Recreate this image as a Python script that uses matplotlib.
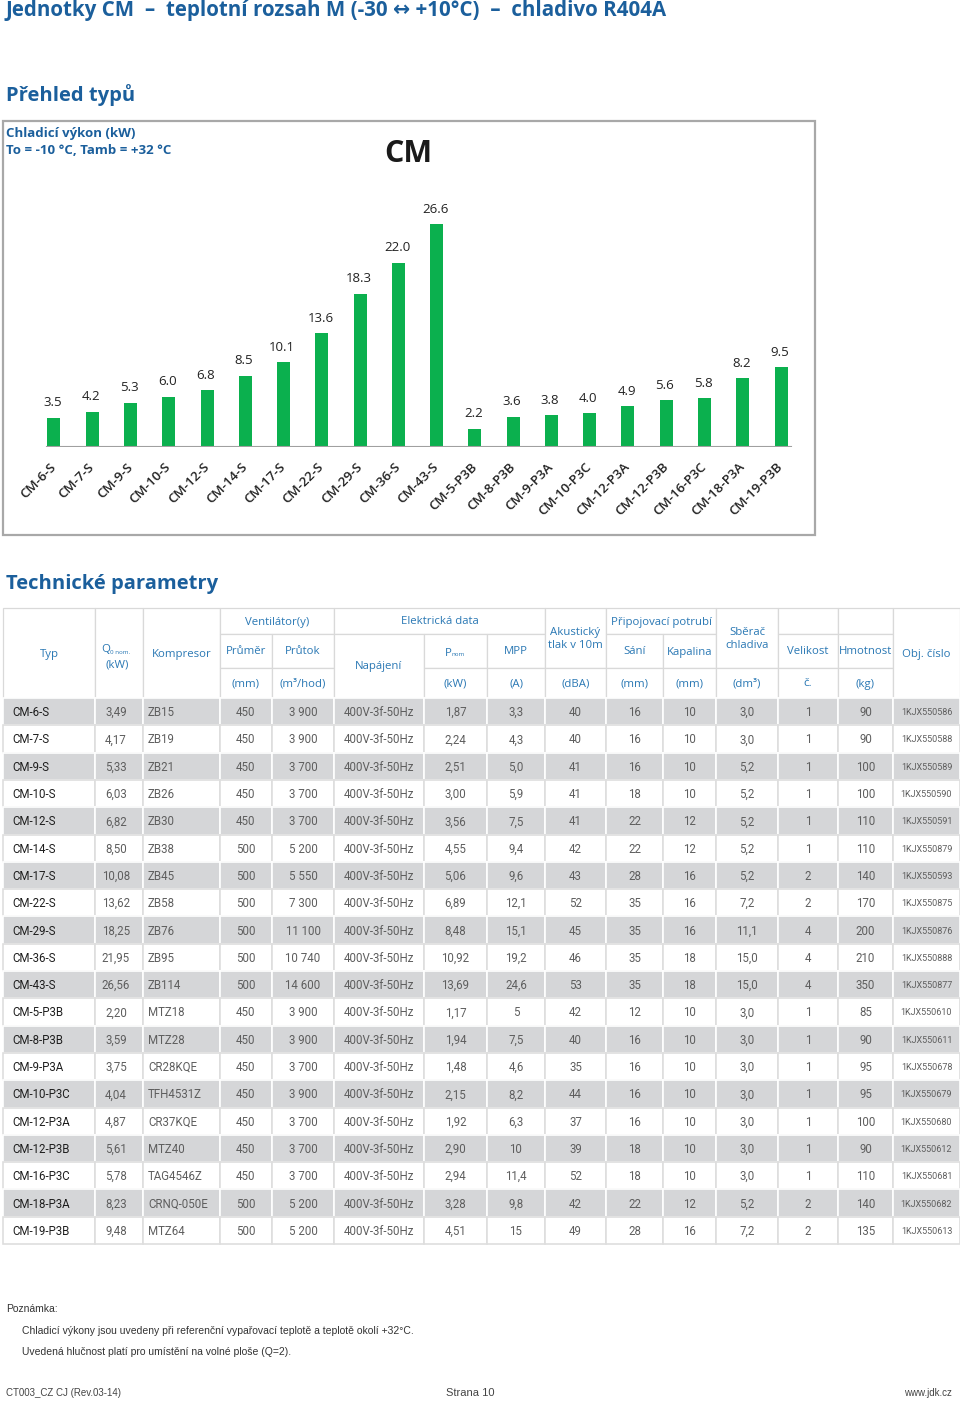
import matplotlib
matplotlib.use("Agg")
import matplotlib.pyplot as plt
from matplotlib.patches import Rectangle

# ---------------- data ----------------
models = ["CM-6-S", "CM-7-S", "CM-9-S", "CM-10-S", "CM-12-S", "CM-14-S", "CM-17-S",
          "CM-22-S", "CM-29-S", "CM-36-S", "CM-43-S", "CM-5-P3B", "CM-8-P3B",
          "CM-9-P3A", "CM-10-P3C", "CM-12-P3A", "CM-12-P3B", "CM-16-P3C",
          "CM-18-P3A", "CM-19-P3B"]
capacity_kw = [3.5, 4.2, 5.3, 6.0, 6.8, 8.5, 10.1, 13.6, 18.3, 22.0, 26.6,
               2.2, 3.6, 3.8, 4.0, 4.9, 5.6, 5.8, 8.2, 9.5]

q0_nom = ["3,49", "4,17", "5,33", "6,03", "6,82", "8,50", "10,08", "13,62", "18,25",
          "21,95", "26,56", "2,20", "3,59", "3,75", "4,04", "4,87", "5,61", "5,78",
          "8,23", "9,48"]
compressor = ["ZB15", "ZB19", "ZB21", "ZB26", "ZB30", "ZB38", "ZB45", "ZB58", "ZB76",
              "ZB95", "ZB114", "MTZ18", "MTZ28", "CR28KQE", "TFH4531Z", "CR37KQE",
              "MTZ40", "TAG4546Z", "CRNQ-050E", "MTZ64"]
fan_diameter = ["450", "450", "450", "450", "450", "500", "500", "500", "500", "500",
                "500", "450", "450", "450", "450", "450", "450", "450", "500", "500"]
airflow = ["3 900", "3 900", "3 700", "3 700", "3 700", "5 200", "5 550", "7 300",
           "11 100", "10 740", "14 600", "3 900", "3 900", "3 700", "3 900", "3 700",
           "3 700", "3 700", "5 200", "5 200"]
supply = ["400V-3f-50Hz"] * 20
p_nom = ["1,87", "2,24", "2,51", "3,00", "3,56", "4,55", "5,06", "6,89", "8,48",
         "10,92", "13,69", "1,17", "1,94", "1,48", "2,15", "1,92", "2,90", "2,94",
         "3,28", "4,51"]
mpp = ["3,3", "4,3", "5,0", "5,9", "7,5", "9,4", "9,6", "12,1", "15,1", "19,2", "24,6",
       "5", "7,5", "4,6", "8,2", "6,3", "10", "11,4", "9,8", "15"]
noise_dba = ["40", "40", "41", "41", "41", "42", "43", "52", "45", "46", "53", "42",
             "40", "35", "44", "37", "39", "52", "42", "49"]
suction_mm = ["16", "16", "16", "18", "22", "22", "28", "35", "35", "35", "35", "12",
              "16", "16", "16", "16", "18", "18", "22", "28"]
liquid_mm = ["10", "10", "10", "10", "12", "12", "16", "16", "16", "18", "18", "10",
             "10", "10", "10", "10", "10", "10", "12", "16"]
receiver_dm3 = ["3,0", "3,0", "5,2", "5,2", "5,2", "5,2", "5,2", "7,2", "11,1", "15,0",
                "15,0", "3,0", "3,0", "3,0", "3,0", "3,0", "3,0", "3,0", "5,2", "7,2"]
size_no = ["1", "1", "1", "1", "1", "1", "2", "2", "4", "4", "4", "1", "1", "1", "1",
           "1", "1", "1", "2", "2"]
weight_kg = ["90", "90", "100", "100", "110", "110", "140", "170", "200", "210", "350",
             "85", "90", "95", "95", "100", "90", "110", "140", "135"]
order_no = ["1KJX550586", "1KJX550588", "1KJX550589", "1KJX550590", "1KJX550591",
            "1KJX550879", "1KJX550593", "1KJX550875", "1KJX550876", "1KJX550888",
            "1KJX550877", "1KJX550610", "1KJX550611", "1KJX550678", "1KJX550679",
            "1KJX550680", "1KJX550612", "1KJX550681", "1KJX550682", "1KJX550613"]

# ---------------- style ----------------
W, H = 960, 1401
TITLE_BLUE = "#1b5f9c"
HEAD_BLUE = "#2a78b4"
GREEN = "#0bb04e"
TXT = "#5e5e5e"
SANS = ["Open Sans", "DejaVu Sans"]
DATAF = ["Roboto", "DejaVu Sans"]
NARROW = ["Liberation Sans Narrow", "Liberation Sans", "DejaVu Sans"]

fig = plt.figure(figsize=(W / 100, H / 100), dpi=100)
page = fig.add_axes([0, 0, 1, 1])
page.set_xlim(0, W)
page.set_ylim(H, 0)
page.axis("off")

# titles
page.text(6, 0, "Jednotky CM  –  teplotní rozsah M (-30 ↔ +10°C)  –  chladivo R404A",
          family=SANS, fontsize=14.8, fontweight="bold", color=TITLE_BLUE, va="top")
page.text(6, 95, "Přehled typů", family=SANS, fontsize=14.5, fontweight="bold",
          color=TITLE_BLUE, va="center")
page.text(6, 584, "Technické parametry", family=SANS, fontsize=14.5, fontweight="bold",
          color=TITLE_BLUE, va="center")

# chart frame
page.add_patch(Rectangle((3, 121), 812, 414, fill=False, ec="#a8a8a8", lw=1.6))
page.text(6, 133, "Chladicí výkon (kW)", family=SANS, fontsize=9.5, fontweight="bold",
          color=TITLE_BLUE, va="center")
page.text(6, 150, "To = -10 °C, Tamb = +32 °C", family=SANS, fontsize=9.5,
          fontweight="bold", color=TITLE_BLUE, va="center")
page.text(408, 154, "CM", family=SANS, fontsize=22, fontweight="bold", color="#1a1a1a",
          ha="center", va="center")

# bar chart
ax = fig.add_axes([30 / W, (H - 447) / H, (805 - 30) / W, (447 - 200) / H])
ax.patch.set_alpha(0)
x = list(range(len(models)))
ax.bar(x, capacity_kw, width=0.34, color=GREEN)
for xi, v in zip(x, capacity_kw):
    ax.annotate(f"{v:.1f}", (xi, v), xytext=(-1, 6), textcoords="offset points",
                ha="center", va="bottom", fontsize=9.5, family=SANS, color="#222222")
ax.set_xlim(-0.627, 19.627)
ax.set_ylim(0, 29.47)
for s in ax.spines.values():
    s.set_visible(False)
ax.axhline(0, xmin=(47 - 30) / 775, xmax=(791 - 30) / 775, color="#a0a0a0", lw=1.5)
ax.set_yticks([])
ax.set_xticks(x)
ax.set_xticklabels(models, rotation=45, ha="right", va="center",
                   rotation_mode="anchor", fontsize=9.5, family=SANS,
                   fontweight="semibold", color="#222222")
ax.tick_params(axis="x", length=0, pad=13)

# ---------------- table ----------------
cols = [3, 95, 143, 220, 272, 334, 424, 487, 545, 606, 663, 716, 778, 838, 893, 960]
line_c = "#d9d9d9"

def hcell(x0, x1, y0, y1, text="", size=8.2):
    page.add_patch(Rectangle((x0, y0), x1 - x0, y1 - y0, fc="white", ec=line_c, lw=0.9))
    if text:
        page.text((x0 + x1) / 2, (y0 + y1) / 2 + 1, text, family=SANS, fontsize=size,
                  color=HEAD_BLUE, ha="center", va="center", linespacing=1.25)

hcell(3, 95, 608, 698, "Typ")
hcell(95, 143, 608, 698)
page.text(110, 650, "Q", family=SANS, fontsize=8.2, color=HEAD_BLUE, ha="right", va="center")
page.text(110, 652, "0 nom.", family=SANS, fontsize=4.5, color=HEAD_BLUE, ha="left", va="center")
page.text(117, 665, "(kW)", family=SANS, fontsize=8.2, color=HEAD_BLUE, ha="center", va="center")
hcell(143, 220, 608, 698, "Kompresor")
hcell(220, 334, 608, 634, "Ventilátor(y)")
hcell(220, 272, 634, 668, "Průměr")
hcell(220, 272, 668, 698, "(mm)")
hcell(272, 334, 634, 668, "Průtok")
hcell(272, 334, 668, 698, "(m³/hod)")
hcell(334, 545, 608, 634, "Elektrická data")
hcell(334, 424, 634, 698, "Napájení")
hcell(424, 487, 634, 668)
page.text(452, 653, "P", family=SANS, fontsize=8.2, color=HEAD_BLUE, ha="right", va="center")
page.text(452, 655, "nom", family=SANS, fontsize=4.5, color=HEAD_BLUE, ha="left", va="center")
hcell(424, 487, 668, 698, "(kW)")
hcell(487, 545, 634, 668, "MPP")
hcell(487, 545, 668, 698, "(A)")
hcell(545, 606, 608, 668, "Akustický\ntlak v 10m")
hcell(545, 606, 668, 698, "(dBA)")
hcell(606, 716, 608, 634, "Připojovací potrubí")
hcell(606, 663, 634, 668, "Sání")
hcell(606, 663, 668, 698, "(mm)")
hcell(663, 716, 634, 668, "Kapalina")
hcell(663, 716, 668, 698, "(mm)")
hcell(716, 778, 608, 668, "Sběrač\nchladiva")
hcell(716, 778, 668, 698, "(dm³)")
hcell(778, 838, 608, 634)
hcell(778, 838, 634, 668, "Velikost")
hcell(778, 838, 668, 698, "č.")
hcell(838, 893, 608, 634)
hcell(838, 893, 634, 668, "Hmotnost")
hcell(838, 893, 668, 698, "(kg)")
hcell(893, 960, 608, 698, "Obj. číslo")

columns = [models, q0_nom, compressor, fan_diameter, airflow, supply, p_nom, mpp,
           noise_dba, suction_mm, liquid_mm, receiver_dm3, size_no, weight_kg, order_no]
row_h = (1244 - 698) / 20
for r in range(20):
    y0 = 698 + r * row_h
    yc = y0 + row_h / 2 + 1
    gray = (r % 2 == 0)
    fc = "#d5d6d8" if gray else "white"
    ec = "white" if gray else "#dedede"
    for c in range(15):
        x0, x1 = cols[c], cols[c + 1]
        page.add_patch(Rectangle((x0, y0), x1 - x0, row_h, fc=fc, ec=ec, lw=1.2))
        val = columns[c][r]
        if c == 0:
            page.text(x0 + 9, yc, val, family=DATAF, fontsize=8.3, color="#1e1e1e",
                      ha="left", va="center")
        elif c == 2:
            page.text(x0 + 5, yc, val, family=DATAF, fontsize=8.3, color=TXT,
                      ha="left", va="center")
        elif c == 14:
            page.text((x0 + x1) / 2, yc, val, family=DATAF, fontsize=6.5, color=TXT,
                      ha="center", va="center")
        else:
            xc = (x0 + x1) / 2
            if c == 1:
                xc = 116
            page.text(xc, yc, val, family=DATAF, fontsize=8.3, color=TXT,
                      ha="center", va="center")

# footer notes
page.text(6, 1309, "Poznámka:", family=NARROW, fontsize=7.5, color="#333333", va="center")
page.text(22, 1331, "Chladicí výkony jsou uvedeny při referenční vypařovací teplotě a teplotě okolí +32°C.",
          family=NARROW, fontsize=7.5, color="#333333", va="center")
page.text(22, 1352, "Uvedená hlučnost platí pro umístění na volné ploše (Q=2).",
          family=NARROW, fontsize=7.5, color="#333333", va="center")
page.text(6, 1393, "CT003_CZ CJ (Rev.03-14)", family=NARROW, fontsize=7, color="#444444", va="center")
page.text(446, 1393, "Strana 10", family=NARROW, fontsize=8, color="#444444", va="center")
page.text(952, 1393, "www.jdk.cz", family=NARROW, fontsize=7, color="#444444", va="center", ha="right")

fig.savefig("out.png", dpi=100)
